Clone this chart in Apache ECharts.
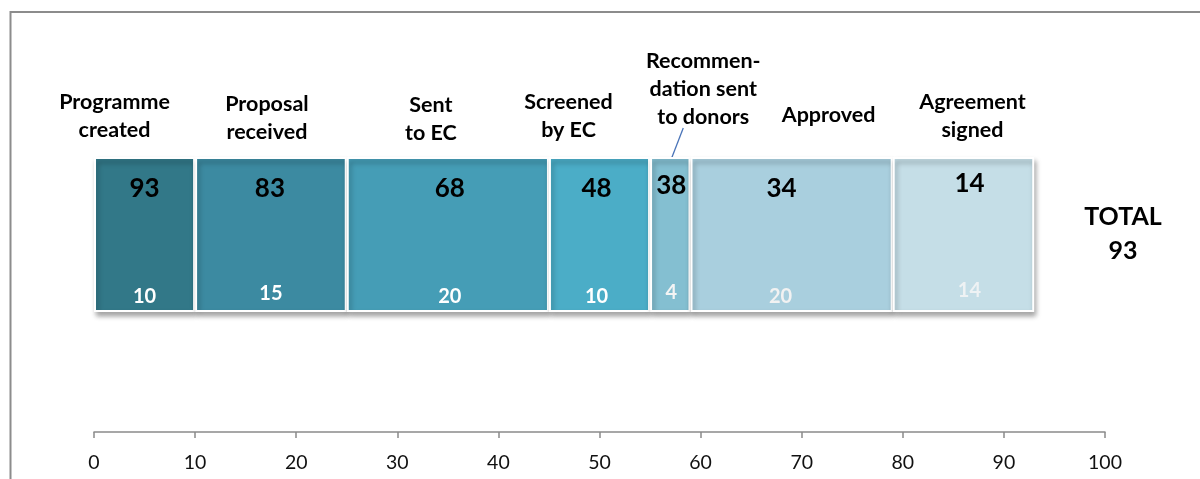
<!DOCTYPE html>
<html>
<head>
<meta charset="utf-8">
<script src="https://cdn.jsdelivr.net/npm/echarts@6/dist/echarts.min.js"></script>
<style>
html,body{margin:0;padding:0;background:#fff;}
#chart{width:1200px;height:479px;}
</style>
</head>
<body>
<div id="chart"></div>
<script>
// ---- data ----
const stages = ['Programme\ncreated', 'Proposal\nreceived', 'Sent\nto EC', 'Screened\nby EC', 'Recommen-\ndation sent\nto donors', 'Approved', 'Agreement\nsigned'];
const counts = [10, 15, 20, 10, 4, 20, 14];          // programmes at each stage
const remaining = [93, 83, 68, 48, 38, 34, 14];      // programmes that reached the stage
const axisMin = 0, axisMax = 100, axisStep = 10;

// ---- styles ----
const colors = ['#327888', '#3c8aa1', '#459db6', '#4badc7', '#84bfd1', '#a9cfde', '#c5dee7'];
const smallColors = ['#ffffff', '#ffffff', '#ffffff', '#ffffff', '#f4f4f4', '#f2f2f2', '#eef2f4'];
const nameOffsets = [[-30, 0], [-4, 2], [-17, 3], [-31, 0], [33, -13], [37, -15], [9, 0]];
const numOffsets = [[0, 0], [-1, 0], [2, 0], [-3, 0], [1, -3], [-10, 0], [6, -5]];
const smallOffsets = [[0, 0], [0, -3], [2, 0], [-3, 0], [1, -4], [-11, 0], [6, -6]];
const FONT = 'Lato, "Open Sans", sans-serif';
const BAR_W = 155;

const total = counts.reduce((a, b) => a + b, 0);

const series = [];
counts.forEach((v, i) => {
  series.push({
    type: 'bar', stack: 'main', yAxisIndex: 0, barWidth: BAR_W,
    data: [v],
    itemStyle: {
      color: colors[i], borderColor: '#ffffff', borderWidth: 2,
      shadowColor: 'rgba(0,0,0,0.35)', shadowBlur: 5, shadowOffsetX: 2, shadowOffsetY: 4
    },
    label: {
      show: true, position: 'insideBottom', distance: 5, offset: smallOffsets[i],
      formatter: String(v), color: smallColors[i],
      fontFamily: FONT, fontWeight: 'bold', fontSize: 20
    },
    silent: true
  });
});
counts.forEach((v, i) => {
  series.push({
    type: 'bar', stack: 'nums', yAxisIndex: 1, barWidth: BAR_W,
    data: [v],
    itemStyle: { color: 'rgba(0,0,0,0)' },
    label: {
      show: true, position: 'insideTop', distance: 19, offset: numOffsets[i],
      formatter: String(remaining[i]), color: '#000',
      fontFamily: FONT, fontWeight: 'bold', fontSize: 26
    },
    silent: true
  });
});
counts.forEach((v, i) => {
  series.push({
    type: 'bar', stack: 'names', yAxisIndex: 2, barWidth: BAR_W,
    data: [v],
    itemStyle: { color: 'rgba(0,0,0,0)' },
    label: {
      show: true, position: 'top', distance: 13, offset: nameOffsets[i],
      formatter: stages[i], color: '#000', align: 'center',
      fontFamily: FONT, fontWeight: 'bold', fontSize: 21.5, lineHeight: 28
    },
    silent: true
  });
});

const hiddenY = { type: 'category', data: ['Pipeline'], show: false };

const chart = echarts.init(document.getElementById('chart'));
chart.setOption({
  animation: false,
  backgroundColor: '#ffffff',
  grid: { left: 94, right: 95, top: 37, bottom: 47 },
  xAxis: {
    type: 'value', min: axisMin, max: axisMax, interval: axisStep,
    splitLine: { show: false },
    axisLine: { show: true, lineStyle: { color: '#8a8a8a', width: 1.5 } },
    axisTick: { show: true, length: 6, lineStyle: { color: '#8a8a8a', width: 1.5 } },
    axisLabel: { color: '#111', fontFamily: FONT, fontSize: 19.5, margin: 21 }
  },
  yAxis: [hiddenY, Object.assign({}, hiddenY), Object.assign({}, hiddenY)],
  series: series
});

// annotation: frame, leader line, total
const leaderStage = 4;
const cumBefore = counts.slice(0, leaderStage).reduce((a, b) => a + b, 0);
const p = chart.convertToPixel({ xAxisIndex: 0, yAxisIndex: 0 }, [cumBefore + counts[leaderStage] / 2, 'Pipeline']);
const barTop = p[1] - BAR_W / 2;
const pEnd = chart.convertToPixel({ xAxisIndex: 0, yAxisIndex: 0 }, [axisMax, 'Pipeline']);

chart.setOption({
  graphic: [
    {
      type: 'rect', silent: true,
      shape: { x: 10.5, y: 12, width: 1400, height: 800 },
      style: { fill: null, stroke: '#8c8c8c', lineWidth: 2 }
    },
    {
      type: 'line', silent: true,
      shape: { x1: p[0] + 13, y1: barTop - 29, x2: p[0] + 1, y2: barTop + 2 },
      style: { stroke: '#4a74b8', lineWidth: 1.3 }
    },
    {
      type: 'text', silent: true,
      x: pEnd[0] + 18, y: p[1] - 35,
      style: {
        text: 'TOTAL\n' + total, align: 'center', verticalAlign: 'top',
        fill: '#000', font: 'bold 25px ' + FONT, lineHeight: 34
      }
    }
  ]
});
</script>
</body>
</html>
